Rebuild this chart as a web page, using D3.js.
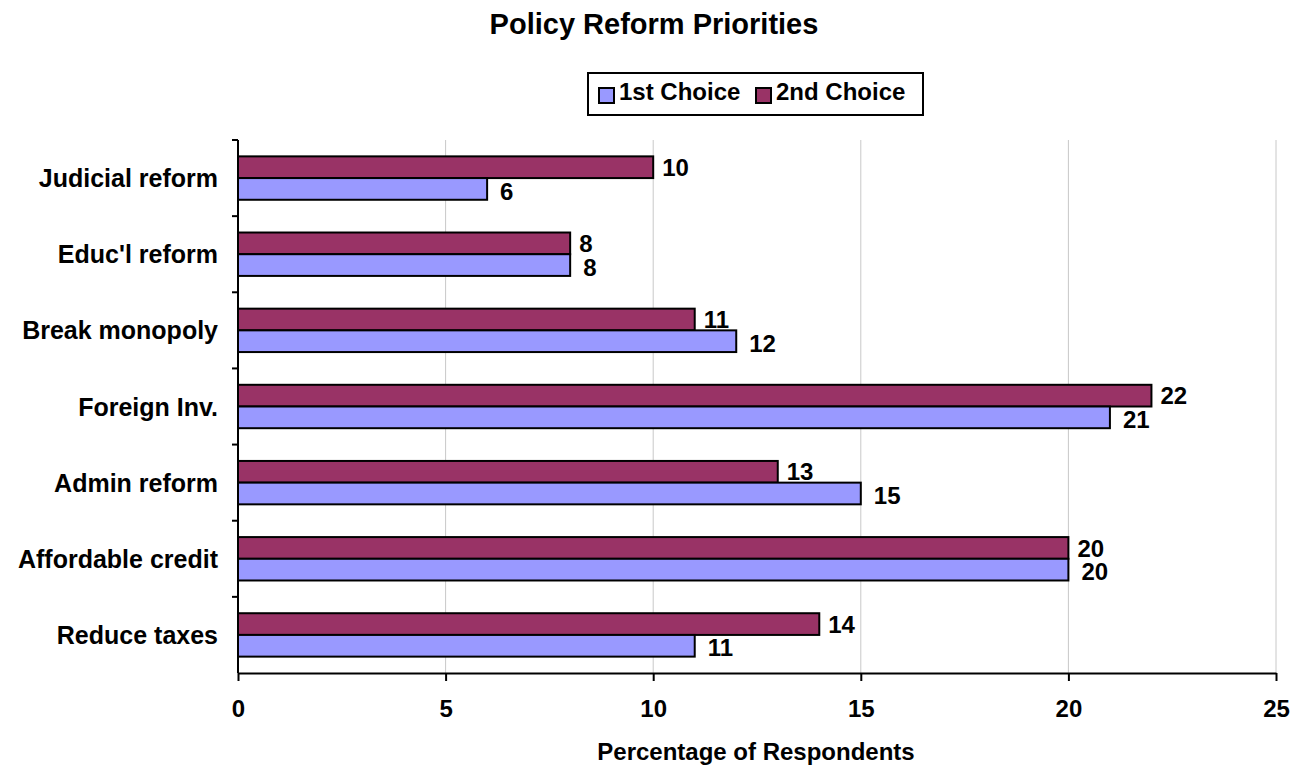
<!DOCTYPE html>
<html>
<head>
<meta charset="utf-8">
<script src="https://cdn.jsdelivr.net/npm/d3@7"></script>
<style>
  html, body { margin: 0; padding: 0; background: #fff; }
  svg { display: block; font-family: "Liberation Sans", Arial, sans-serif; }
</style>
</head>
<body>
<svg id="chart" width="1302" height="768"></svg>
<script>
// Reform priorities, listed top to bottom
const categories = ["Judicial reform", "Educ'l reform", "Break monopoly", "Foreign Inv.", "Admin reform", "Affordable credit", "Reduce taxes"];
const firstChoice = [6, 8, 12, 21, 15, 20, 11];
const secondChoice = [10, 8, 11, 22, 13, 20, 14];
const seriesNames = ["1st Choice", "2nd Choice"];
const seriesColors = ["#9999FF", "#993366"];
const xTicks = [0, 5, 10, 15, 20, 25];

const svg = d3.select("#chart");
const margin = { left: 238, right: 26, top: 140, bottom: 95 };
const W = 1302, H = 768;
const plotW = W - margin.left - margin.right;
const plotH = H - margin.top - margin.bottom;

const x = d3.scaleLinear().domain([0, 25]).range([0, plotW]);
const y = d3.scaleBand().domain(categories).range([0, plotH]).paddingInner(0.43).paddingOuter(0.215);
// within each band: 2nd choice on top, 1st choice below
const inner = d3.scaleBand().domain(["2nd", "1st"]).range([0, y.bandwidth()]);

const g = svg.append("g").attr("transform", `translate(${margin.left},${margin.top})`);

// gridlines
g.append("g").selectAll("line").data(xTicks.filter(t => t > 0)).join("line")
  .attr("x1", d => x(d)).attr("x2", d => x(d))
  .attr("y1", 0).attr("y2", plotH)
  .attr("stroke", "#c8c8c8").attr("stroke-width", 1);

// bars
const rows = categories.map((c, i) => ({ cat: c, first: firstChoice[i], second: secondChoice[i] }));
const rowG = g.selectAll("g.row").data(rows).join("g").attr("class", "row")
  .attr("transform", d => `translate(0,${y(d.cat)})`);

rowG.append("rect")
  .attr("x", 0).attr("y", inner("2nd"))
  .attr("width", d => x(d.second)).attr("height", inner.bandwidth())
  .attr("fill", seriesColors[1]).attr("stroke", "#000").attr("stroke-width", 2);
rowG.append("rect")
  .attr("x", 0).attr("y", inner("1st"))
  .attr("width", d => x(d.first)).attr("height", inner.bandwidth())
  .attr("fill", seriesColors[0]).attr("stroke", "#000").attr("stroke-width", 2);

// value labels
rowG.append("text")
  .attr("x", d => x(d.second) + 9).attr("y", inner("2nd") + inner.bandwidth() / 2)
  .attr("dy", "0.36em").attr("font-size", 24).attr("font-weight", "bold")
  .text(d => d.second);
rowG.append("text")
  .attr("x", d => x(d.first) + 13).attr("y", inner("1st") + inner.bandwidth() / 2 + 2)
  .attr("dy", "0.36em").attr("font-size", 24).attr("font-weight", "bold")
  .text(d => d.first);

// x axis
const xAxis = g.append("g").attr("transform", `translate(0,${plotH})`)
  .call(d3.axisBottom(x).tickValues(xTicks).tickSize(8).tickSizeOuter(0).tickPadding(19));
xAxis.select(".domain").attr("stroke", "#000").attr("stroke-width", 2);
xAxis.selectAll(".tick line").attr("stroke", "#000").attr("stroke-width", 2);
xAxis.selectAll(".tick text").attr("font-size", 24).attr("font-weight", "bold")
  .attr("font-family", "Liberation Sans, Arial, sans-serif").attr("fill", "#000");

// y axis: line with ticks at band boundaries
const yAxis = g.append("g");
yAxis.append("line").attr("x1", 0).attr("x2", 0).attr("y1", 0).attr("y2", plotH)
  .attr("stroke", "#000").attr("stroke-width", 2);
const step = plotH / categories.length;
yAxis.selectAll("line.tk").data(d3.range(categories.length)).join("line").attr("class", "tk")
  .attr("x1", -6).attr("x2", 0)
  .attr("y1", i => i * step).attr("y2", i => i * step)
  .attr("stroke", "#000").attr("stroke-width", 2);
yAxis.selectAll("text").data(categories).join("text")
  .attr("x", -20).attr("y", d => y(d) + y.bandwidth() / 2)
  .attr("dy", "0.36em").attr("text-anchor", "end")
  .attr("font-size", 25).attr("font-weight", "bold")
  .text(d => d);

// title
svg.append("text").attr("x", 654).attr("y", 34).attr("text-anchor", "middle")
  .attr("font-size", 29).attr("font-weight", "bold").text("Policy Reform Priorities");

// axis title
svg.append("text").attr("x", 756).attr("y", 760).attr("text-anchor", "middle")
  .attr("font-size", 24).attr("font-weight", "bold").text("Percentage of Respondents");

// legend
const leg = svg.append("g").attr("transform", "translate(588,73)");
leg.append("rect").attr("x", 0).attr("y", 0).attr("width", 335).attr("height", 42)
  .attr("fill", "#fff").attr("stroke", "#000").attr("stroke-width", 2);
const items = [{ name: seriesNames[0], color: seriesColors[0], x: 10 }, { name: seriesNames[1], color: seriesColors[1], x: 167 }];
items.forEach(it => {
  leg.append("rect").attr("x", it.x + 1).attr("y", 15).attr("width", 15).attr("height", 15)
    .attr("fill", it.color).attr("stroke", "#000").attr("stroke-width", 2);
  leg.append("text").attr("x", it.x + 21).attr("y", 27)
    .attr("font-size", 24).attr("font-weight", "bold").text(it.name);
});
</script>
</body>
</html>
